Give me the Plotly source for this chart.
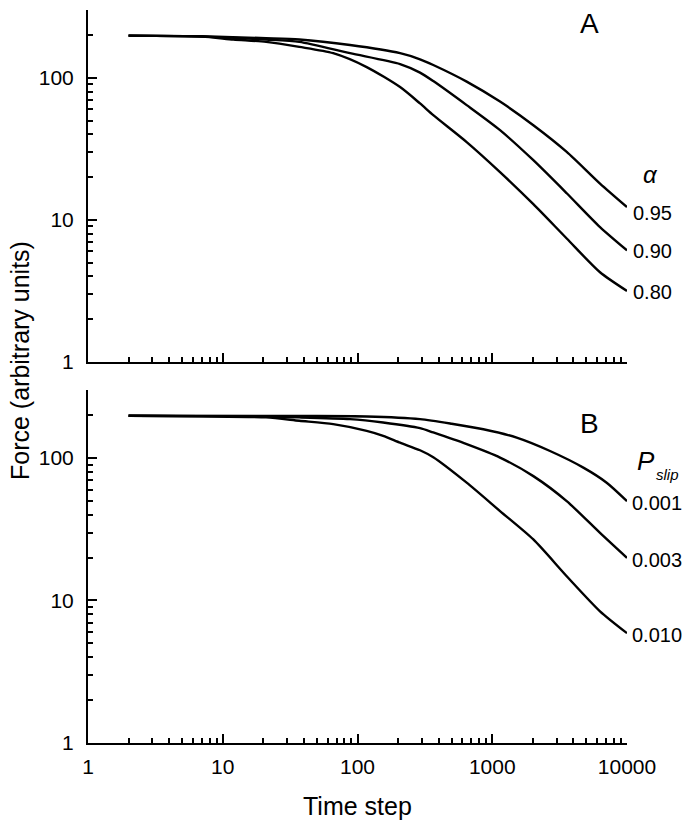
import plotly.graph_objects as go
from plotly.subplots import make_subplots

# ---- Data ----
# Panel A: alpha series
a95_x = [2, 7, 21, 37, 88, 207, 291, 365, 646, 1142, 2018, 3570, 6306, 10000]
a95_y = [198, 196, 190, 186, 170, 149, 135, 123, 94, 68, 46.4, 30.1, 18.0, 12.3]
a90_x = [2, 7, 21, 37, 88, 207, 291, 365, 646, 1142, 2018, 3570, 6306, 10000]
a90_y = [198, 195, 186, 179, 149, 125, 108.8, 94.8, 64.2, 42.8, 26.3, 15.4, 8.9, 6.1]
a80_x = [2, 7, 12, 21, 37, 66, 117, 207, 291, 365, 646, 1142, 2018, 3570, 6306, 10000]
a80_y = [198, 195, 186, 179, 165, 149, 119, 86, 66, 54.6, 35.3, 21.7, 12.9, 7.4, 4.28, 3.16]

# Panel B: P_slip series
b001_x = [2, 37, 117, 291, 500, 859, 1518, 2683, 4742, 7066, 10000]
b001_y = [198, 197, 195.7, 187.5, 174, 159, 139, 112, 85.6, 67.1, 49.8]
b003_x = [2, 12, 37, 88, 155, 291, 365, 646, 1142, 2018, 3570, 6306, 10000]
b003_y = [198, 196, 192.6, 187.5, 177.5, 162, 151, 125, 100.7, 74.6, 49.8, 29.8, 19.9]
b010_x = [2, 7, 21, 37, 66, 117, 155, 207, 291, 365, 646, 1142, 2018, 3570, 6306, 10000]
b010_y = [198, 196, 192.6, 182.4, 172.7, 155, 143, 128, 113.3, 101.2, 67.1, 42.4, 26.8, 14.8, 8.4, 5.9]

series_a = [("0.95", a95_x, a95_y), ("0.90", a90_x, a90_y), ("0.80", a80_x, a80_y)]
series_b = [("0.001", b001_x, b001_y), ("0.003", b003_x, b003_y), ("0.010", b010_x, b010_y)]

x_tickvals = [1, 10, 100, 1000, 10000]
x_ticktext = ["1", "10", "100", "1000", "10000"]
y_tickvals = [1, 10, 100]
y_ticktext = ["1", "10", "100"]
x_minor = [m * d for d in [1, 10, 100, 1000] for m in range(2, 10)]
y_minor = [m * d for d in [1, 10] for m in range(2, 10)] + [200, 300]

# ---- Figure ----
W, H = 692, 827
L, R, T, B = 88, 65, 10, 84
PW, PH = W - L - R, H - T - B

def px(x):
    return (x - L) / PW

def py(y):
    return (H - B - y) / PH

FONT = "Liberation Sans, Arial, Helvetica, sans-serif"

fig = make_subplots(rows=2, cols=1)

for name, xs, ys in series_a:
    fig.add_trace(go.Scatter(x=xs, y=ys, mode="lines", name=name,
                             line=dict(color="black", width=2.4, shape="spline", smoothing=0.7),
                             showlegend=False), row=1, col=1)
for name, xs, ys in series_b:
    fig.add_trace(go.Scatter(x=xs, y=ys, mode="lines", name=name,
                             line=dict(color="black", width=2.4, shape="spline", smoothing=0.7),
                             showlegend=False), row=2, col=1)

common_x = dict(type="log", range=[0, 4], tickvals=x_tickvals, ticktext=x_ticktext,
                ticks="inside", ticklen=9, tickwidth=2, tickcolor="black",
                minor=dict(tickvals=x_minor, ticks="inside", ticklen=5, tickwidth=2, tickcolor="black"),
                showline=True, linecolor="black", linewidth=2, showgrid=False, zeroline=False,
                tickfont=dict(family=FONT, size=21, color="black"))
common_y = dict(type="log", range=[0, 2.4771], tickvals=y_tickvals, ticktext=y_ticktext,
                ticks="inside", ticklen=9, tickwidth=2, tickcolor="black",
                minor=dict(tickvals=y_minor, ticks="inside", ticklen=5, tickwidth=2, tickcolor="black"),
                showline=True, linecolor="black", linewidth=2, showgrid=False, zeroline=False,
                tickfont=dict(family=FONT, size=21, color="black"), ticklabelstandoff=8)

fig.update_xaxes(**common_x)
fig.update_yaxes(**common_y)
fig.update_xaxes(showticklabels=False, row=1, col=1)
fig.update_xaxes(ticklabelstandoff=4, row=2, col=1)

fig.update_layout(
    width=W, height=H,
    margin=dict(l=L, r=R, t=T, b=B),
    paper_bgcolor="white", plot_bgcolor="white",
    font=dict(family=FONT, color="black"),
    xaxis=dict(domain=[0, 1]), xaxis2=dict(domain=[0, 1]),
    yaxis=dict(domain=[py(362), 1.0]), yaxis2=dict(domain=[0.0, py(390)]),
)

def ann(text, x, y, size, xanchor="center"):
    fig.add_annotation(text=text, x=px(x), y=py(y), xref="paper", yref="paper",
                       showarrow=False, xanchor=xanchor, yanchor="middle",
                       font=dict(family=FONT, size=size, color="black"))

ann("A", 589, 24, 28)
ann("B", 589, 423, 28)
ann("<i>α</i>", 650, 174, 24)
for (name, _, _), yy in zip(series_a, [213, 251, 292]):
    ann(name, 631, yy, 20, xanchor="left")
fig.add_annotation(text="<i>P</i>", x=px(646), y=py(461), xref="paper", yref="paper",
                   showarrow=False, xanchor="center", yanchor="middle",
                   font=dict(family=FONT, size=26, color="black"))
fig.add_annotation(text="<i>slip</i>", x=px(667), y=py(475), xref="paper", yref="paper",
                   showarrow=False, xanchor="center", yanchor="middle",
                   font=dict(family=FONT, size=15, color="black"))
for (name, _, _), yy in zip(series_b, [503, 560, 635]):
    ann(name, 630, yy, 20, xanchor="left")

fig.add_annotation(text="Time step", x=px(357), y=py(806), xref="paper", yref="paper",
                   showarrow=False, xanchor="center", yanchor="middle",
                   font=dict(family=FONT, size=25, color="black"))
fig.add_annotation(text="Force (arbitrary units)", x=px(20), y=py(361), xref="paper", yref="paper",
                   showarrow=False, xanchor="center", yanchor="middle", textangle=-90,
                   font=dict(family=FONT, size=25, color="black"))

fig.write_html("out.html", config={"displayModeBar": False},
               post_script="document.body.style.margin='0px';document.body.style.overflow='hidden';")
